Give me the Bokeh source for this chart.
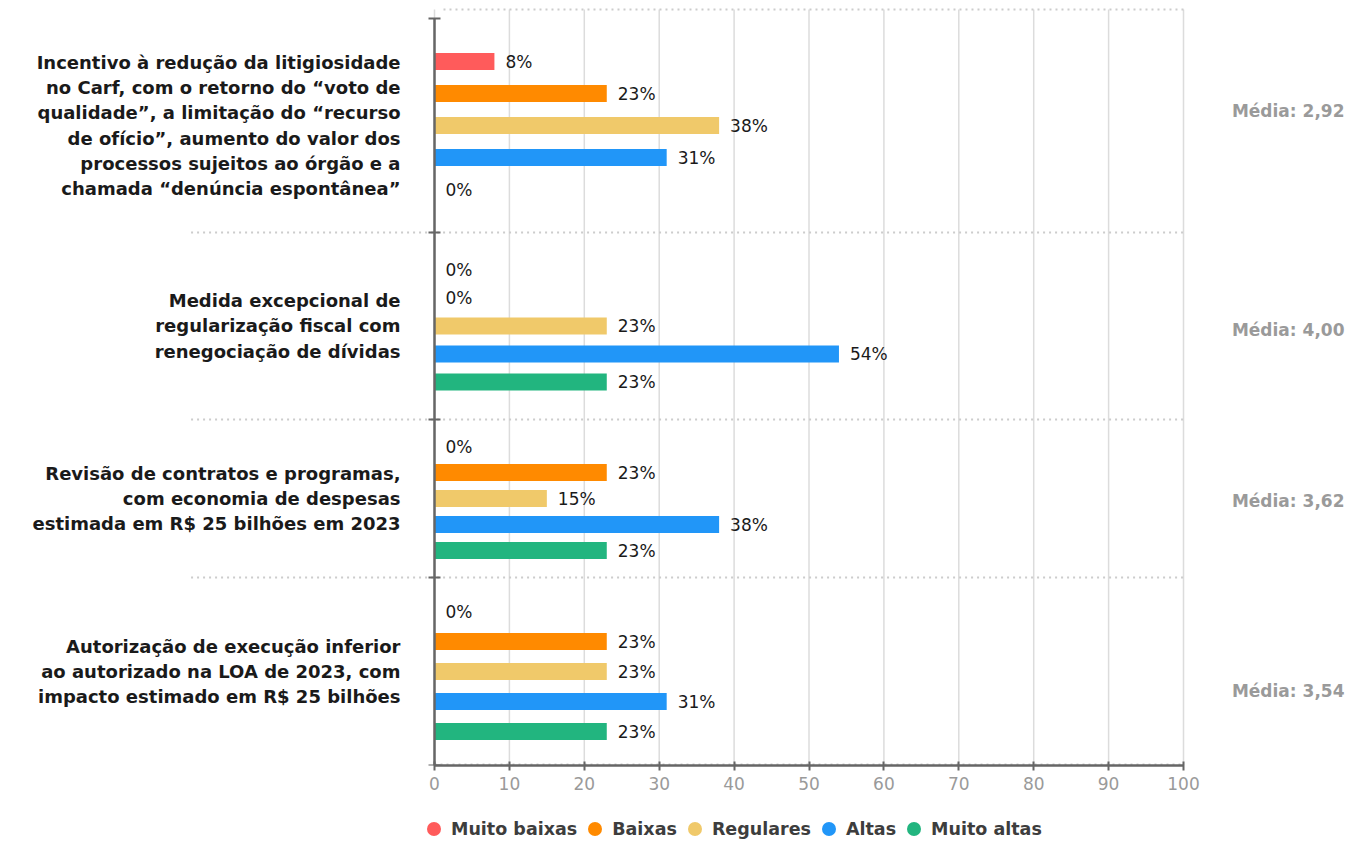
from bokeh.plotting import figure
from bokeh.layouts import column
from bokeh.models import Range1d, FixedTicker, Legend, LegendItem, ColumnDataSource
from bokeh.core.properties import value
from bokeh.embed import file_html
from bokeh.resources import INLINE

# ---------------- data ----------------
categories = [
    "Incentivo à redução da litigiosidade\nno Carf, com o retorno do “voto de\nqualidade”, a limitação do “recurso\nde ofício”, aumento do valor dos\nprocessos sujeitos ao órgão e a\nchamada “denúncia espontânea”",
    "Medida excepcional de\nregularização fiscal com\nrenegociação de dívidas",
    "Revisão de contratos e programas,\ncom economia de despesas\nestimada em R$ 25 bilhões em 2023",
    "Autorização de execução inferior\nao autorizado na LOA de 2023, com\nimpacto estimado em R$ 25 bilhões",
]
series_names = ["Muito baixas", "Baixas", "Regulares", "Altas", "Muito altas"]
muito_baixas = [8, 0, 0, 0]
baixas = [23, 0, 23, 23]
regulares = [38, 23, 15, 23]
altas = [31, 54, 38, 31]
muito_altas = [0, 23, 23, 23]
medias = ["Média: 2,92", "Média: 4,00", "Média: 3,62", "Média: 3,54"]
x_ticks = [0, 10, 20, 30, 40, 50, 60, 70, 80, 90, 100]

series_values = [muito_baixas, baixas, regulares, altas, muito_altas]

# ---------------- layout / style ----------------
colors = ["#ff5b5b", "#ff8a00", "#f0c96a", "#2196f8", "#22b57f"]
group_edges = [18, 232, 419, 577, 765]   # vertical extent of each group (px units)
bar_gap = [32, 28, 26, 30]               # distance between bars in each group
media_shift = [-15, 4, 2, 19]            # vertical offset of the "Média" labels
bar_h = 17
FONT = "DejaVu Sans"
px_per_unit = 7.49
x0_px = 434
W = 1353

centers = [(group_edges[i] + group_edges[i + 1]) / 2 for i in range(len(categories))]

p = figure(
    frame_width=W, frame_height=765,
    x_range=Range1d(-x0_px / px_per_unit, (W - x0_px) / px_per_unit),
    y_range=Range1d(765, 0),
    output_backend="svg", toolbar_location=None,
    y_axis_location=None, min_border=0,
    background_fill_color="white", border_fill_color="white",
)
p.outline_line_color = None

# grid (vertical lines at ticks)
p.xaxis.ticker = FixedTicker(ticks=x_ticks)
p.xgrid.visible = False
p.ygrid.visible = False
p.segment(x0=x_ticks, x1=x_ticks, y0=[group_edges[0] - 9] * len(x_ticks),
          y1=[group_edges[-1]] * len(x_ticks), line_color="#dcdcdc", line_width=1.5)

# x axis
ax = p.xaxis[0]
ax.bounds = (0, 100)
ax.axis_line_color = "#666666"
ax.axis_line_width = 2.5
ax.major_tick_line_color = "#666666"
ax.major_tick_line_width = 2
ax.major_tick_in = 4
ax.major_tick_out = 5
ax.minor_tick_line_color = None
ax.major_label_text_font = FONT
ax.major_label_text_font_size = "17px"
ax.major_label_text_color = "#9a9a9a"
ax.major_label_standoff = 6

# dotted separators
inner = group_edges[1:-1]
p.segment(x0=[-32.5] * len(inner), x1=[100] * len(inner), y0=inner, y1=inner,
          line_color="#cccccc", line_width=2, line_dash="2 4")
p.segment(x0=[1.2, 0], x1=[100, 100], y0=[group_edges[0] - 9, group_edges[-1] - 1],
          y1=[group_edges[0] - 9, group_edges[-1] - 1],
          line_color="#cccccc", line_width=2, line_dash="2 4")

# bars
for i, (name, vals, col) in enumerate(zip(series_names, series_values, colors)):
    ys = [centers[g] + (i - 2) * bar_gap[g] for g in range(len(categories))]
    src = ColumnDataSource(dict(
        y=ys, v=vals,
        lx=[v + 11 / px_per_unit for v in vals],
        txt=[f"{v}%" for v in vals],
    ))
    p.hbar(y="y", left=0, right="v", height=bar_h, source=src,
           fill_color=col, line_color=None)
    p.text(x="lx", y="y", text="txt", source=src, text_font=value(FONT),
           text_font_size="17px", text_color="#1a1a1a",
           text_align="left", text_baseline="middle")

# y axis line + ticks
p.segment(x0=[0], x1=[0], y0=[group_edges[0]], y1=[group_edges[-1]],
          line_color="#666666", line_width=2.5)
p.scatter(x=[0] * len(group_edges), y=group_edges, marker="dash", size=12,
          line_color="#666666", line_width=2)

# category labels
p.text(x=[-34 / px_per_unit] * len(categories), y=centers, text=categories,
       text_font=value(FONT), text_font_style="bold", text_font_size="18px",
       text_color="#1a1a1a", text_align="right", text_baseline="middle",
       text_line_height=1.2)

# averages
p.text(x=[(1344 - x0_px) / px_per_unit] * len(medias),
       y=[c + s for c, s in zip(centers, media_shift)], text=medias,
       text_font=value(FONT), text_font_style="bold", text_font_size="17px",
       text_color="#9a9a9a", text_align="right", text_baseline="middle")

# legend in its own strip below the chart
lf = figure(width=W, height=54, x_range=Range1d(0, 1), y_range=Range1d(0, 1),
            output_backend="svg", toolbar_location=None,
            x_axis_location=None, y_axis_location=None, min_border=0,
            background_fill_color="white", border_fill_color="white")
lf.outline_line_color = None
lf.xgrid.visible = False
lf.ygrid.visible = False
items = []
for name, col in zip(series_names, colors):
    # marker placed outside the visible range: only its legend swatch shows
    r = lf.scatter(x=[-5], y=[-5], marker="circle", size=15, fill_color=col, line_color=None)
    items.append(LegendItem(label=name, renderers=[r]))
legend = Legend(items=items, orientation="horizontal", location=(416, 0),
                border_line_color=None, background_fill_alpha=0,
                label_text_font=FONT, label_text_font_size="17.5px",
                label_text_font_style="bold",
                label_text_color="#3d3d3d", glyph_width=35, glyph_height=35,
                spacing=0, label_standoff=0, padding=0, margin=0)
lf.add_layout(legend)

layout = column(p, lf, spacing=0)
open("out.html", "w").write(file_html(layout, INLINE))
